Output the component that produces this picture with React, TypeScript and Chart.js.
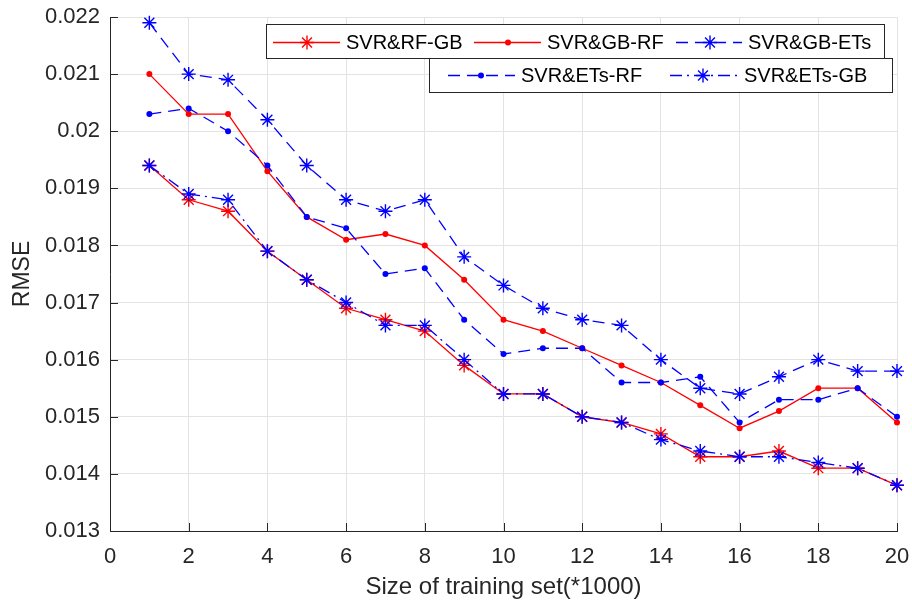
import React, { useEffect, useRef } from "react";
import { Chart, registerables } from "chart.js";

Chart.register(...registerables);

// ---- Data ----
const trainingSizes = [1, 2, 3, 4, 5, 6, 7, 8, 9, 10, 11, 12, 13, 14, 15, 16, 17, 18, 19, 20];
const svrRfGb = [0.0194, 0.0188, 0.0186, 0.0179, 0.0174, 0.0169, 0.0167, 0.0165, 0.0159, 0.0154, 0.0154, 0.0150, 0.0149, 0.0147, 0.0143, 0.0143, 0.0144, 0.0141, 0.0141, 0.0138];
const svrGbRf = [0.0210, 0.0203, 0.0203, 0.0193, 0.0185, 0.0181, 0.0182, 0.0180, 0.0174, 0.0167, 0.0165, 0.0162, 0.0159, 0.0156, 0.0152, 0.0148, 0.0151, 0.0155, 0.0155, 0.0149];
const svrGbEts = [0.0219, 0.0210, 0.0209, 0.0202, 0.0194, 0.0188, 0.0186, 0.0188, 0.0178, 0.0173, 0.0169, 0.0167, 0.0166, 0.0160, 0.0155, 0.0154, 0.0157, 0.0160, 0.0158, 0.0158];
const svrEtsRf = [0.0203, 0.0204, 0.0200, 0.0194, 0.0185, 0.0183, 0.0175, 0.0176, 0.0167, 0.0161, 0.0162, 0.0162, 0.0156, 0.0156, 0.0157, 0.0149, 0.0153, 0.0153, 0.0155, 0.0150];
const svrEtsGb = [0.0194, 0.0189, 0.0188, 0.0179, 0.0174, 0.0170, 0.0166, 0.0166, 0.0160, 0.0154, 0.0154, 0.0150, 0.0149, 0.0146, 0.0144, 0.0143, 0.0143, 0.0142, 0.0141, 0.0138];

const seriesLabels = ["SVR&RF-GB", "SVR&GB-RF", "SVR&GB-ETs", "SVR&ETs-RF", "SVR&ETs-GB"];
const xTitle = "Size of training set(*1000)";
const yTitle = "RMSE";
const xMin = 0, xMax = 20, xStep = 2;
const yMin = 0.013, yMax = 0.022, yStep = 0.001;

const FONT = "'Liberation Sans', Arial, Helvetica, sans-serif";
const AXIS = "#262626";
const GRID = "#e3e3e3";
const RED = "#ff0000";
const BLUE = "#0000ff";
const DASH = [12, 7];
const DASHDOT = [12, 5, 2, 5];

type Style = { color: string; dash: number[]; marker: "star" | "dot" };
const styles: Style[] = [
  { color: RED, dash: [], marker: "star" },
  { color: RED, dash: [], marker: "dot" },
  { color: BLUE, dash: DASH, marker: "star" },
  { color: BLUE, dash: DASH, marker: "dot" },
  { color: BLUE, dash: DASHDOT, marker: "star" },
];
const seriesValues = [svrRfGb, svrGbRf, svrGbEts, svrEtsRf, svrEtsGb];

function drawMarker(ctx: CanvasRenderingContext2D, kind: string, x: number, y: number, color: string) {
  ctx.save();
  ctx.setLineDash([]);
  if (kind === "star") {
    const r = 7;
    const d = r * Math.SQRT1_2;
    ctx.strokeStyle = color;
    ctx.lineWidth = 1.4;
    ctx.beginPath();
    ctx.moveTo(x - r, y); ctx.lineTo(x + r, y);
    ctx.moveTo(x, y - r); ctx.lineTo(x, y + r);
    ctx.moveTo(x - d, y - d); ctx.lineTo(x + d, y + d);
    ctx.moveTo(x - d, y + d); ctx.lineTo(x + d, y - d);
    ctx.stroke();
  } else {
    ctx.fillStyle = color;
    ctx.beginPath();
    ctx.arc(x, y, 3, 0, Math.PI * 2);
    ctx.fill();
  }
  ctx.restore();
}

export default function App() {
  const ref = useRef<HTMLCanvasElement>(null);

  useEffect(() => {
    if (!ref.current) return;

    const tickPlugin = {
      id: "inwardTicks",
      beforeDatasetsDraw(chart: any) {
        const ctx = chart.ctx as CanvasRenderingContext2D;
        const { left, bottom } = chart.chartArea;
        const xs = chart.scales.x;
        const ys = chart.scales.y;
        ctx.save();
        ctx.strokeStyle = AXIS;
        ctx.lineWidth = 1;
        ctx.beginPath();
        xs.ticks.forEach((t: any) => {
          const px = Math.round(xs.getPixelForValue(t.value)) + 0.5;
          ctx.moveTo(px, bottom);
          ctx.lineTo(px, bottom - 8);
        });
        ys.ticks.forEach((t: any) => {
          const py = Math.round(ys.getPixelForValue(t.value)) + 0.5;
          ctx.moveTo(left, py);
          ctx.lineTo(left + 8, py);
        });
        ctx.stroke();
        ctx.restore();
      },
    };

    const legendPlugin = {
      id: "matlabLegend",
      afterDraw(chart: any) {
        const ctx = chart.ctx as CanvasRenderingContext2D;
        const boxes = [
          { x: 266, y: 24, w: 618, h: 34, cy: 42, items: [
            { idx: 0, l0: 273, l1: 340, m: 307, tx: 346 },
            { idx: 1, l0: 474, l1: 541, m: 508, tx: 547 },
            { idx: 2, l0: 676, l1: 742, m: 710, tx: 748 },
          ] },
          { x: 429, y: 58, w: 463, h: 34, cy: 75, items: [
            { idx: 3, l0: 448, l1: 515, m: 481, tx: 521 },
            { idx: 4, l0: 670, l1: 737, m: 703, tx: 744 },
          ] },
        ];
        ctx.save();
        boxes.forEach((b) => {
          ctx.setLineDash([]);
          ctx.fillStyle = "#ffffff";
          ctx.fillRect(b.x, b.y, b.w, b.h);
          ctx.strokeStyle = AXIS;
          ctx.lineWidth = 1;
          ctx.strokeRect(b.x + 0.5, b.y + 0.5, b.w, b.h);
          b.items.forEach((it) => {
            const st = styles[it.idx];
            ctx.save();
            ctx.strokeStyle = st.color;
            ctx.lineWidth = 1.3;
            ctx.setLineDash(st.dash);
            ctx.beginPath();
            ctx.moveTo(it.l0, b.cy + 0.5);
            ctx.lineTo(it.l1, b.cy + 0.5);
            ctx.stroke();
            ctx.restore();
            drawMarker(ctx, st.marker, it.m, b.cy + 0.5, st.color);
            ctx.fillStyle = "#000000";
            ctx.font = `20px ${FONT}`;
            ctx.textBaseline = "middle";
            ctx.textAlign = "left";
            ctx.fillText(seriesLabels[it.idx], it.tx, b.cy + 1);
          });
        });
        ctx.restore();
      },
    };

    const datasets = seriesLabels.map((label, i) => {
      const st = styles[i];
      return {
        label,
        data: trainingSizes.map((x, k) => ({ x, y: seriesValues[i][k] })),
        borderColor: st.color,
        backgroundColor: st.color,
        borderWidth: 1.3,
        borderDash: st.dash,
        pointStyle: st.marker === "star" ? "star" : "circle",
        pointRadius: st.marker === "star" ? 7 : 3,
        pointBorderWidth: st.marker === "star" ? 1.4 : 0,
        pointBorderColor: st.color,
        pointBackgroundColor: st.color,
        fill: false,
        tension: 0,
        clip: false as any,
        order: 4 - i,
      };
    });

    const chart = new Chart(ref.current, {
      type: "line",
      data: { datasets: datasets as any },
      options: {
        responsive: false,
        animation: false,
        events: [],
        layout: { padding: { top: 17, right: 15, left: 0, bottom: 0 } },
        plugins: {
          legend: { display: false },
          tooltip: { enabled: false },
        },
        scales: {
          x: {
            type: "linear",
            min: xMin,
            max: xMax,
            ticks: {
              stepSize: xStep,
              padding: 13,
              color: AXIS,
              font: { family: FONT, size: 22 },
              maxRotation: 0,
            },
            grid: { color: GRID, lineWidth: 1, drawTicks: false },
            border: { color: AXIS, width: 1 },
            title: {
              display: true,
              text: xTitle,
              color: AXIS,
              font: { family: FONT, size: 24 },
              padding: { top: 0, bottom: 2 },
            },
            afterFit(scale: any) {
              scale.height = 73;
              scale.paddingLeft = 0;
              scale.paddingRight = 0;
            },
          },
          y: {
            type: "linear",
            min: yMin,
            max: yMax,
            ticks: {
              stepSize: yStep,
              padding: 10,
              color: AXIS,
              font: { family: FONT, size: 22 },
              callback: (v: any) => String(parseFloat(Number(v).toFixed(3))),
            },
            grid: { color: GRID, lineWidth: 1, drawTicks: false },
            border: { color: AXIS, width: 1 },
            title: {
              display: true,
              text: yTitle,
              color: AXIS,
              font: { family: FONT, size: 23 },
              padding: { top: 9, bottom: 0 },
            },
            afterFit(scale: any) {
              scale.width = 110;
              scale.paddingTop = 0;
              scale.paddingBottom = 0;
            },
          },
        },
      },
      plugins: [tickPlugin, legendPlugin],
    });

    return () => chart.destroy();
  }, []);

  return (
    <div style={{ position: "fixed", left: 0, top: 0, width: 912, height: 604, background: "#ffffff" }}>
      <canvas ref={ref} width={912} height={604} style={{ display: "block", width: 912, height: 604 }} />
    </div>
  );
}
